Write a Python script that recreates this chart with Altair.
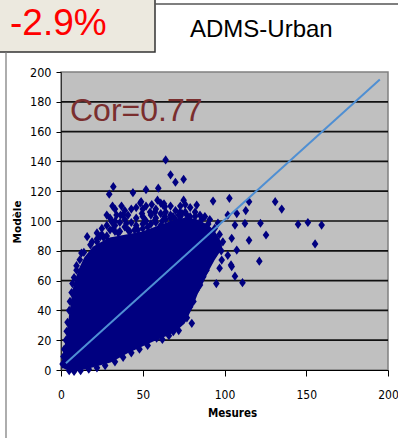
import altair as alt
import pandas as pd

# ---- data ----
# envelope of the solid (saturated) part of the cloud
cloud_x = [1.5, 2, 3, 4, 5, 6, 7, 8, 10, 12, 15, 20, 25, 30, 35, 40, 45, 50, 55, 60,
           65, 70, 75, 79, 83, 87, 90, 93, 96, 97.5]
cloud_low = [3, 2, 1.5, 1, 1, 1, 1, 0.5, 0.5, 1, 1.5, 3, 4.5, 6, 9, 12, 14.5, 17, 19.5, 22,
             24, 27, 32, 41, 52, 61, 68, 74, 79, 81]
cloud_high = [5, 9, 15, 22, 30, 38, 46, 54, 62, 68, 75, 82, 85, 88, 89, 90, 91, 92, 94, 96,
              98, 100, 101, 101, 100, 98, 96, 93, 88, 84]

# individual diamonds (edges and outliers)
pts_x = [64, 67, 70, 75, 59.5, 52, 44, 32, 29.5, 31.5, 34, 37, 48.5, 55.5, 59, 63, 75, 16, 19,
         12.5, 27, 28.5, 49, 49.5, 57.5, 63.5, 40, 45, 32, 36.5, 51.5, 68.5, 74, 31, 33, 50,
         57.5, 63.5, 24, 54.5, 38, 11.5, 9.5, 72.8, 62.4,
         83, 93, 103, 115, 122, 125.4, 115, 121.3, 131, 135, 145, 151, 159.4, 155.4, 111,
         106.4, 104, 97, 95, 107.5, 104.4, 113, 107.5, 106.4, 112.5, 102, 96, 102, 104.4,
         98.3, 80, 83, 87, 79, 74.8, 68.7, 58.5,
         5, 8, 12, 17, 22, 27, 33, 38, 43, 48, 53, 62, 66, 72, 77, 81, 85, 89, 93,
         1, 1.5, 2, 3, 3.5, 4, 5, 5.5, 6.5, 7, 8, 9.5,
         14, 18, 22, 26, 35, 42, 47, 53, 58, 62, 67, 72, 77, 82, 86, 90, 94, 97, 99, 98,
         22, 22, 25, 25, 28, 28, 28, 30, 30, 33, 33, 33, 36, 36, 39, 39, 39, 41, 41, 43, 43,
         46, 46, 46, 50, 50, 50, 52, 52, 55, 55, 58, 58, 61, 61, 61, 64, 64, 67, 67, 70, 70,
         73, 73, 76, 76, 76, 79, 79, 82, 82, 85, 85, 88, 88, 91, 91]
pts_y = [141, 131, 126, 128, 122, 121, 119, 123, 118, 110, 104, 110, 112, 111, 114, 111.5,
         114, 89.5, 86, 78.5, 84, 86.5, 113, 105, 106, 109.5, 98.5, 94, 95, 104, 100.5, 103,
         105, 99.5, 93, 98, 100.5, 103, 89.5, 106, 104, 74, 67, 106, 110.7,
         110.7, 113.4, 115.2, 113, 98.5, 90.6, 87, 73, 113, 108, 97.8, 99, 97.3, 84.6, 58.6,
         63, 70.5, 68.3, 58, 80.5, 88.4, 107, 105, 97.3, 98.4, 104, 98.6, 77, 69.4,
         73.8, 31.3, 53.7, 62.6, 42.5, 33.6, 25.7, 21.3,
         -0.5, -1, -0.5, 0.5, 1.5, 3, 5.5, 8.5, 11.5, 14, 16.5, 20.5, 23, 26.5, 35, 46, 57, 67,
         77,
         4, 9, 14, 20, 26, 32, 40, 46, 52, 58, 62, 70,
         79, 84, 86, 89, 92, 93, 94, 96, 99, 100, 102, 104, 104, 103, 101, 98, 95, 91, 86, 80,
         88, 92, 91, 95, 90, 97, 104, 94, 102, 97, 100, 108, 93, 99, 96, 107, 101, 94, 104, 99,
         108, 97, 102, 109, 95, 103, 108, 100, 110, 98, 104, 102, 108, 97, 105, 112, 101, 106,
         104, 110, 101, 107, 103, 110, 100, 106, 111, 103, 109, 99, 106, 97, 104, 103, 95,
         101, 93]

line_x = [3, 195]
line_y = [4.5, 195]

grid_y = [20, 40, 60, 80, 100, 120, 140, 160, 180]
x_ticks = [0, 50, 100, 150, 200]
y_ticks = [0, 20, 40, 60, 80, 100, 120, 140, 160, 180, 200]

badge_text = "-2.9%"
model_text = "ADMS-Urban"
cor_text = "Cor=0.77"
x_title = "Mesures"
y_title = "Modèle"

# ---- chart ----
W, H = 327, 298
NAVY = "#000080"
FONT = "Liberation Sans"
NARROW = "Liberation Sans Narrow, DejaVu Sans Condensed, sans-serif"

xs = alt.Scale(domain=[0, 200], nice=False, zero=False)
ys = alt.Scale(domain=[0, 200], nice=False, zero=False)

df_cloud = pd.DataFrame({"x": cloud_x, "lo": cloud_low, "hi": cloud_high})
df_pts = pd.DataFrame({"x": pts_x, "y": pts_y})
df_line = pd.DataFrame({"x": line_x, "y": line_y})
df_grid = pd.DataFrame({"g": grid_y})
one = pd.DataFrame({"a": [0]})

xaxis = alt.Axis(values=x_ticks, title="", grid=False, domainColor="#000", domainWidth=1,
                 tickColor="#000", tickSize=6, labelPadding=13, labelFont=NARROW,
                 labelFontSize=12, labelColor="#000", labelFlush=False)
yaxis = alt.Axis(values=y_ticks, title="", grid=False, domainColor="#333", domainWidth=1,
                 tickColor="#000", tickSize=5, labelPadding=5, labelFont=NARROW,
                 labelFontSize=12.5, labelColor="#000", labelFlush=False)

grid = alt.Chart(df_grid).mark_rule(color="#111111", strokeWidth=1.7).encode(
    y=alt.Y("g:Q", scale=ys, axis=yaxis)
)

area = alt.Chart(df_cloud).mark_area(color=NAVY, stroke=NAVY, strokeWidth=3, opacity=1).encode(
    x=alt.X("x:Q", scale=xs, axis=xaxis),
    y=alt.Y("lo:Q", scale=ys, axis=yaxis),
    y2="hi:Q",
)

pts = alt.Chart(df_pts).mark_point(
    shape="M0,-1L0.72,0L0,1L-0.72,0Z", filled=True, size=85, color=NAVY, opacity=1
).encode(x=alt.X("x:Q", scale=xs, axis=xaxis), y=alt.Y("y:Q", scale=ys, axis=yaxis))

line = alt.Chart(df_line).mark_line(color="#4f8fd3", strokeWidth=2).encode(
    x=alt.X("x:Q", scale=xs, axis=xaxis), y=alt.Y("y:Q", scale=ys, axis=yaxis)
)

box = alt.Chart(one).mark_rect(fill="#ECE9DF", stroke="#333333", strokeWidth=1.5).encode(
    x=alt.value(-63), x2=alt.value(94), y=alt.value(-74), y2=alt.value(-20)
)
top_rule = alt.Chart(one).mark_rule(color="#555555", strokeWidth=1.5).encode(
    x=alt.value(94), x2=alt.value(340), y=alt.value(-68)
)
left_rule = alt.Chart(one).mark_rule(color="#777777", strokeWidth=1.2).encode(
    x=alt.value(-55), y=alt.value(-20), y2=alt.value(370)
)

t_badge = alt.Chart(one).mark_text(text=badge_text, font=FONT, fontSize=37, color="#FF0000",
                                   align="left", baseline="alphabetic").encode(
    x=alt.value(-51), y=alt.value(-37))
t_model = alt.Chart(one).mark_text(text=model_text, font=FONT, fontSize=24, color="#000000",
                                   align="left", baseline="alphabetic").encode(
    x=alt.value(129), y=alt.value(-35))
t_cor = alt.Chart(one).mark_text(text=cor_text, font=FONT, fontSize=32, color="#7a2e2e",
                                 align="left", baseline="alphabetic").encode(
    x=alt.value(9), y=alt.value(48.5))
t_xt = alt.Chart(one).mark_text(text=x_title, font=NARROW, fontSize=11.5, fontWeight="bold",
                                color="#000000", align="center", baseline="middle").encode(
    x=alt.value(171.5), y=alt.value(342))
t_yt = alt.Chart(one).mark_text(text=y_title, font="DejaVu Sans", fontSize=10.5,
                                fontWeight="bold", color="#000000", align="center",
                                baseline="middle", angle=270).encode(
    x=alt.value(-43), y=alt.value(150))

chart = alt.layer(
    grid, area, pts, line, box, top_rule, left_rule, t_badge, t_model, t_cor, t_xt, t_yt
).properties(
    width=W, height=H,
    autosize=alt.AutoSizeParams(type="none"),
    padding={"left": 61, "top": 72, "right": 10, "bottom": 68},
    background="#FFFFFF",
).configure_view(fill="#C0C0C0", stroke="#808080", strokeWidth=1.5)

chart.save("out.html", embed_options={"renderer": "svg", "actions": False})
